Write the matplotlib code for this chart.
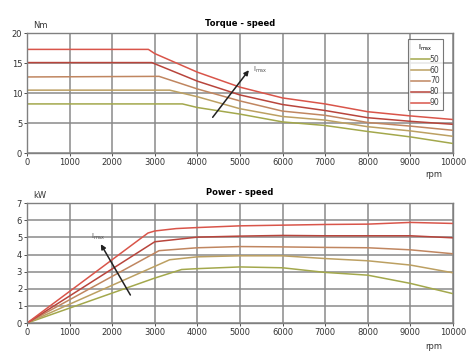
import matplotlib
matplotlib.use('Agg')
import matplotlib.pyplot as plt

# torque - speed curves (rpm, Nm)
imax_labels = ['50', '60', '70', '80', '90']
colors = ['#a3a84c', '#bca062', '#c08660', '#b8453c', '#d9554a']

rpm_t50 = [0, 3650, 4000, 5000, 6000, 7000, 8000, 9000, 10000]
nm_50 = [8.2, 8.2, 7.6, 6.5, 5.2, 4.6, 3.6, 2.7, 1.6]
rpm_t60 = [0, 3350, 4000, 5000, 6000, 7000, 8000, 9000, 10000]
nm_60 = [10.5, 10.5, 9.4, 7.4, 6.1, 5.5, 4.4, 3.7, 2.8]
rpm_t70 = [0, 3100, 4000, 5000, 6000, 7000, 8000, 9000, 10000]
nm_70 = [12.7, 12.8, 10.7, 8.7, 7.0, 6.3, 5.1, 4.5, 3.8]
rpm_t80 = [0, 2930, 4000, 5000, 6000, 7000, 8000, 9000, 10000]
nm_80 = [15.1, 15.1, 12.0, 9.7, 8.1, 7.1, 5.9, 5.3, 4.8]
rpm_t90 = [0, 2850, 3000, 4000, 5000, 6000, 7000, 8000, 9000, 10000]
nm_90 = [17.3, 17.3, 16.6, 13.5, 11.0, 9.2, 8.2, 6.9, 6.2, 5.6]

# power - speed curves (rpm, kW)
rpm_p50 = [0, 3000, 3630, 4000, 5000, 6000, 7000, 8000, 9000, 10000]
kw_50 = [0, 2.63, 3.13, 3.18, 3.28, 3.23, 2.96, 2.80, 2.32, 1.72]
rpm_p60 = [0, 3350, 4000, 5000, 6000, 7000, 8000, 9000, 10000]
kw_60 = [0, 3.70, 3.87, 3.93, 3.93, 3.77, 3.64, 3.39, 2.94]
rpm_p70 = [0, 3100, 4000, 5000, 6000, 7000, 8000, 9000, 10000]
kw_70 = [0, 4.23, 4.40, 4.47, 4.45, 4.42, 4.40, 4.28, 4.05]
rpm_p80 = [0, 3000, 4000, 5000, 6000, 7000, 8000, 9000, 10000]
kw_80 = [0, 4.75, 5.02, 5.08, 5.12, 5.10, 5.10, 5.10, 4.98]
rpm_p90 = [0, 2840, 3000, 3500, 4000, 5000, 6000, 7000, 8000, 9000, 10000]
kw_90 = [0, 5.26, 5.38, 5.52, 5.58, 5.68, 5.72, 5.76, 5.78, 5.88, 5.82]

torque_series = [(rpm_t50, nm_50), (rpm_t60, nm_60), (rpm_t70, nm_70),
                 (rpm_t80, nm_80), (rpm_t90, nm_90)]
power_series = [(rpm_p50, kw_50), (rpm_p60, kw_60), (rpm_p70, kw_70),
                (rpm_p80, kw_80), (rpm_p90, kw_90)]

x_ticks = list(range(0, 10001, 1000))

fig = plt.figure(figsize=(4.69, 3.61), dpi=100, facecolor='white')
ax1 = fig.add_axes([0.0576, 0.576, 0.908, 0.332])
ax2 = fig.add_axes([0.0576, 0.105, 0.908, 0.332])

FS = 6
for ax in (ax1, ax2):
    ax.set_xlim(0, 10000)
    ax.set_xticks(x_ticks)
    ax.grid(True, color='#8a8a8a', linewidth=1.1)
    ax.set_axisbelow(True)
    ax.tick_params(labelsize=FS, colors='#333333', length=2, width=0.6,
                   pad=1.5)
    for spine in ax.spines.values():
        spine.set_color('#808080')
        spine.set_linewidth(1.0)

for (x, y), c, lab in zip(torque_series, colors, imax_labels):
    ax1.plot(x, y, color=c, linewidth=1.1, label=lab)
for (x, y), c in zip(power_series, colors):
    ax2.plot(x, y, color=c, linewidth=1.1)

ax1.set_ylim(0, 20)
ax1.set_yticks([0, 5, 10, 15, 20])
ax2.set_ylim(0, 7)
ax2.set_yticks(range(0, 8))

ax1.set_title('Torque - speed', fontsize=FS, fontweight='bold', pad=5)
ax2.set_title('Power - speed', fontsize=FS, fontweight='bold', pad=6)
ax1.text(0.015, 1.03, 'Nm', transform=ax1.transAxes, fontsize=FS,
         color='#333333', va='bottom')
ax2.text(0.015, 1.03, 'kW', transform=ax2.transAxes, fontsize=FS,
         color='#333333', va='bottom')
ax1.text(0.935, -0.14, 'rpm', transform=ax1.transAxes, fontsize=FS,
         color='#333333', va='top')
ax2.text(0.935, -0.16, 'rpm', transform=ax2.transAxes, fontsize=FS,
         color='#333333', va='top')

# arrows showing increasing Imax
ax1.annotate('', xy=(5250, 14.2), xytext=(4320, 5.6),
             arrowprops=dict(arrowstyle='-|>', color='#222222', lw=1.1,
                             mutation_scale=7))
ax1.text(5300, 13.6, r'I$_{\rm max}$', fontsize=5, color='#555555')
ax2.annotate('', xy=(1700, 4.75), xytext=(2460, 1.5),
             arrowprops=dict(arrowstyle='-|>', color='#222222', lw=1.1,
                             mutation_scale=7))
ax2.text(1500, 4.95, r'I$_{\rm max}$', fontsize=5, color='#555555')

leg = ax1.legend(loc='upper right', bbox_to_anchor=(0.985, 0.98),
                 fontsize=5.5, title=r'I$_{\rm max}$', title_fontsize=5,
                 frameon=True, fancybox=False, handlelength=2.5,
                 handletextpad=0.0, labelspacing=0.25, borderpad=0.4,
                 markerfirst=True)
leg.get_frame().set_edgecolor('#555555')
leg.get_frame().set_linewidth(0.8)
for t in leg.get_texts():
    t.set_color('#444444')

fig.savefig('out.png', dpi=100, facecolor='white')
